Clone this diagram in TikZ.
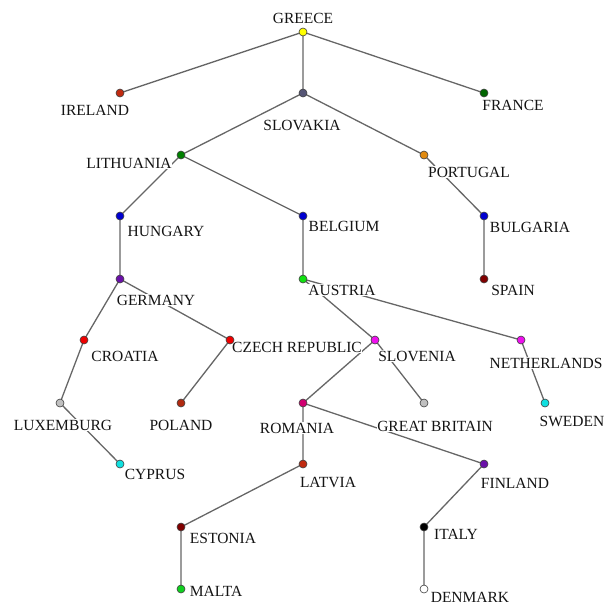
\documentclass[tikz,border=0pt]{standalone}
\usepackage{fontspec}
\setmainfont{Liberation Serif}
\begin{document}
\begin{tikzpicture}[x=1pt,y=-1pt,
  cdot/.style={circle,draw=black!75,line width=0.6pt,minimum size=8pt,inner sep=0pt},
  lab/.style={fill=white,inner sep=0.5pt,text=black!92,font=\fontsize{15.5}{17}\selectfont},
  edge/.style={draw=black!60,line width=1.3pt}]
\useasboundingbox (0,0) rectangle (612,606);
\definecolor{cyel}{HTML}{FFFF00}
\definecolor{cirl}{HTML}{C02A10}
\definecolor{cslk}{HTML}{555575}
\definecolor{cfra}{HTML}{006400}
\definecolor{clit}{HTML}{008000}
\definecolor{cpor}{HTML}{E08A10}
\definecolor{cblu}{HTML}{0000D0}
\definecolor{cpur}{HTML}{6A10A8}
\definecolor{caus}{HTML}{10E010}
\definecolor{cspa}{HTML}{800000}
\definecolor{cred}{HTML}{EE0000}
\definecolor{cmag}{HTML}{EE10EE}
\definecolor{cgry}{HTML}{C0C0C0}
\definecolor{cpol}{HTML}{B02A10}
\definecolor{crom}{HTML}{D00070}
\definecolor{ccya}{HTML}{10E0E0}
\definecolor{cmal}{HTML}{10D020}
% dots (coordinates)
\coordinate (gr) at (303,32);
\coordinate (ie) at (120,93);
\coordinate (sk) at (303,93);
\coordinate (fr) at (484,93);
\coordinate (lt) at (181,155);
\coordinate (pt) at (424,155);
\coordinate (hu) at (120,216);
\coordinate (be) at (303,216);
\coordinate (bg) at (484,216);
\coordinate (de) at (120,279);
\coordinate (at) at (303,279);
\coordinate (es) at (484,279);
\coordinate (hr) at (84,340);
\coordinate (cz) at (230,340);
\coordinate (si) at (375,340);
\coordinate (nl) at (521,340);
\coordinate (lu) at (60,403);
\coordinate (pl) at (181,403);
\coordinate (ro) at (303,403);
\coordinate (gb) at (424,403);
\coordinate (se) at (545,403);
\coordinate (cy) at (120,464);
\coordinate (lv) at (303,464);
\coordinate (fi) at (484,464);
\coordinate (ee) at (181,527);
\coordinate (it) at (424,527);
\coordinate (mt) at (181,589);
\coordinate (dk) at (424,589);
% edges
\path[edge] (gr) -- (ie) (gr) -- (sk) (gr) -- (fr)
  (sk) -- (lt) (sk) -- (pt) (lt) -- (hu) (lt) -- (be) (pt) -- (bg)
  (hu) -- (de) (be) -- (at) (bg) -- (es) (de) -- (hr) (de) -- (cz)
  (at) -- (si) (at) -- (nl) (hr) -- (lu) (cz) -- (pl) (si) -- (ro)
  (si) -- (gb) (nl) -- (se) (lu) -- (cy) (ro) -- (lv) (ro) -- (fi)
  (lv) -- (ee) (fi) -- (it) (ee) -- (mt) (it) -- (dk);
% labels
\node[lab] (gr-l) at (303,18) {GREECE};
\node[lab] (ie-l) at (95,110) {IRELAND};
\node[lab] (sk-l) at (302,125) {SLOVAKIA};
\node[lab] (fr-l) at (513,105) {FRANCE};
\node[lab] (lt-l) at (129,163) {LITHUANIA};
\node[lab] (pt-l) at (469,172) {PORTUGAL};
\node[lab] (hu-l) at (166,231) {HUNGARY};
\node[lab] (be-l) at (344,226) {BELGIUM};
\node[lab] (bg-l) at (530,227) {BULGARIA};
\node[lab] (de-l) at (156,300) {GERMANY};
\node[lab] (at-l) at (342,290) {AUSTRIA};
\node[lab] (es-l) at (513,290) {SPAIN};
\node[lab] (hr-l) at (125,356) {CROATIA};
\node[lab] (cz-l) at (297,347) {CZECH REPUBLIC};
\node[lab] (si-l) at (417,356) {SLOVENIA};
\node[lab] (nl-l) at (546,363) {NETHERLANDS};
\node[lab] (lu-l) at (63,425) {LUXEMBURG};
\node[lab] (pl-l) at (181,425) {POLAND};
\node[lab] (ro-l) at (297,428) {ROMANIA};
\node[lab] (gb-l) at (435,426) {GREAT BRITAIN};
\node[lab] (se-l) at (572,421) {SWEDEN};
\node[lab] (cy-l) at (155,474) {CYPRUS};
\node[lab] (lv-l) at (328,482) {LATVIA};
\node[lab] (fi-l) at (515,483) {FINLAND};
\node[lab] (ee-l) at (223,538) {ESTONIA};
\node[lab] (it-l) at (456,534) {ITALY};
\node[lab] (mt-l) at (216,591) {MALTA};
\node[lab] (dk-l) at (470,597) {DENMARK};
% dots
\node[cdot,fill=cyel] (gr-d) at (gr) {};
\node[cdot,fill=cirl] (ie-d) at (ie) {};
\node[cdot,fill=cslk] (sk-d) at (sk) {};
\node[cdot,fill=cfra] (fr-d) at (fr) {};
\node[cdot,fill=clit] (lt-d) at (lt) {};
\node[cdot,fill=cpor] (pt-d) at (pt) {};
\node[cdot,fill=cblu] (hu-d) at (hu) {};
\node[cdot,fill=cblu] (be-d) at (be) {};
\node[cdot,fill=cblu] (bg-d) at (bg) {};
\node[cdot,fill=cpur] (de-d) at (de) {};
\node[cdot,fill=caus] (at-d) at (at) {};
\node[cdot,fill=cspa] (es-d) at (es) {};
\node[cdot,fill=cred] (hr-d) at (hr) {};
\node[cdot,fill=cred] (cz-d) at (cz) {};
\node[cdot,fill=cmag] (si-d) at (si) {};
\node[cdot,fill=cmag] (nl-d) at (nl) {};
\node[cdot,fill=cgry] (lu-d) at (lu) {};
\node[cdot,fill=cpol] (pl-d) at (pl) {};
\node[cdot,fill=crom] (ro-d) at (ro) {};
\node[cdot,fill=cgry] (gb-d) at (gb) {};
\node[cdot,fill=ccya] (se-d) at (se) {};
\node[cdot,fill=ccya] (cy-d) at (cy) {};
\node[cdot,fill=cirl] (lv-d) at (lv) {};
\node[cdot,fill=cpur] (fi-d) at (fi) {};
\node[cdot,fill=cspa] (ee-d) at (ee) {};
\node[cdot,fill=black] (it-d) at (it) {};
\node[cdot,fill=cmal] (mt-d) at (mt) {};
\node[cdot,fill=white] (dk-d) at (dk) {};
\end{tikzpicture}
\end{document}
